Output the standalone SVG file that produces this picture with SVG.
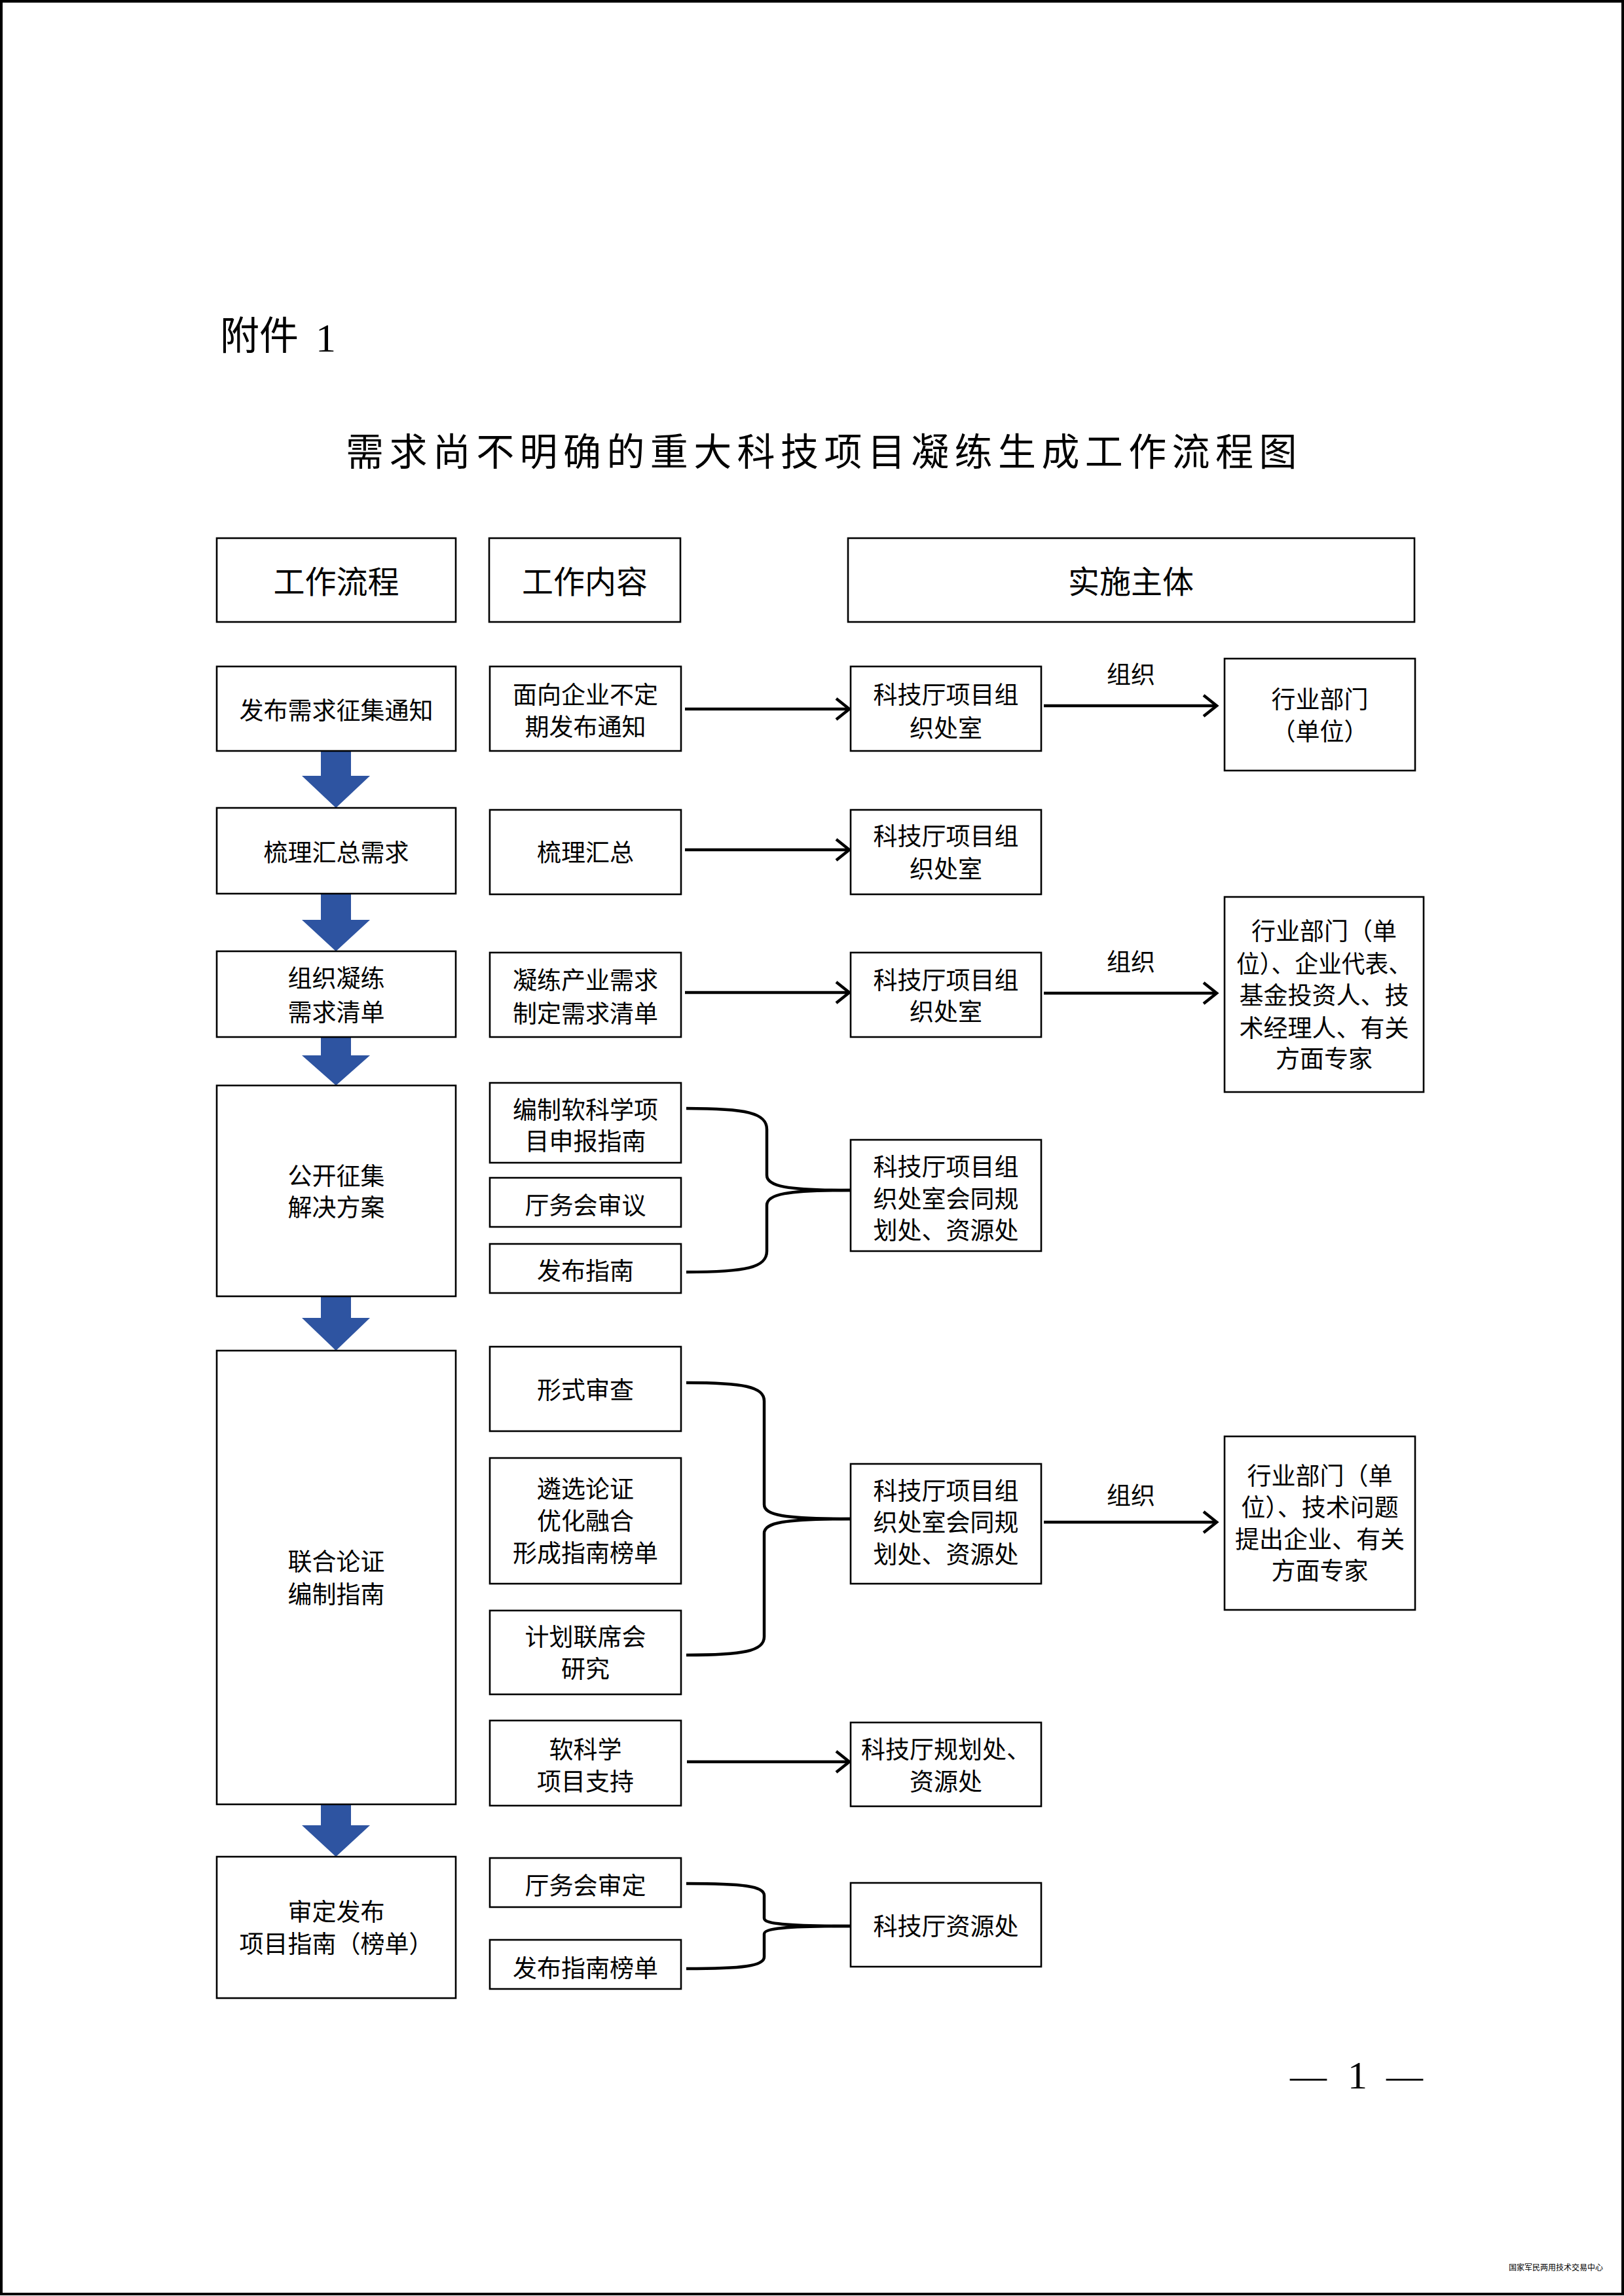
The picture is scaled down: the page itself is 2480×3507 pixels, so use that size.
<svg xmlns="http://www.w3.org/2000/svg" width="2480" height="3507" viewBox="0 0 2480 3507">
<style>
.box{fill:#fff;stroke:#000;stroke-width:2.6}
.t{font-family:"Noto Sans CJK SC","Liberation Sans",sans-serif;font-size:37px;fill:#000;text-anchor:middle}
.h{font-family:"Noto Sans CJK SC","Liberation Sans",sans-serif;font-size:48px;fill:#000;text-anchor:middle}
.ln{fill:none;stroke:#000;stroke-width:4.5}
.br{fill:none;stroke:#000;stroke-width:4.5}
.blue{fill:#2E54A1}
</style>
<defs>
<marker id="ah" markerUnits="userSpaceOnUse" markerWidth="30" markerHeight="36" viewBox="0 0 30 36" refX="24" refY="18" orient="auto">
<path d="M4,2 L24,18 L4,34" fill="none" stroke="#000" stroke-width="4.5"/>
</marker>
</defs>
<rect x="0" y="0" width="2480" height="3507" fill="#fff"/>
<rect x="2" y="2" width="2476" height="3502" fill="none" stroke="#000" stroke-width="4"/>

<text x="336" y="534" font-family="Noto Sans CJK SC,sans-serif" font-size="60">附件</text>
<text x="482" y="537" font-family="Liberation Serif,serif" font-size="62">1</text>
<text x="528" y="711" font-family="Noto Sans CJK SC,sans-serif" font-size="58" letter-spacing="8.4">需求尚不明确的重大科技项目凝练生成工作流程图</text>

<g id="headers">
<rect class="box" x="331" y="822" width="365" height="128"/>
<text class="h" x="513.5" y="906">工作流程</text>
<rect class="box" x="747" y="822" width="292" height="128"/>
<text class="h" x="893" y="906">工作内容</text>
<rect class="box" x="1295" y="822" width="865" height="128"/>
<text class="h" x="1727" y="906">实施主体</text>
</g>

<g id="connectors">
<polygon class="blue" points="490,1147 536,1147 536,1185 565,1185 513,1234 461,1185 490,1185"/>
<polygon class="blue" points="490,1365 536,1365 536,1405 565,1405 513,1453 461,1405 490,1405"/>
<polygon class="blue" points="490,1584 536,1584 536,1612 565,1612 513,1658 461,1612 490,1612"/>
<polygon class="blue" points="490,1980 536,1980 536,2013 565,2013 513,2063 461,2013 490,2013"/>
<polygon class="blue" points="490,2756 536,2756 536,2788 565,2788 513,2836 461,2788 490,2788"/>

<line class="ln" x1="1046" y1="1083" x2="1297" y2="1083" marker-end="url(#ah)"/>
<line class="ln" x1="1594" y1="1078" x2="1858" y2="1078" marker-end="url(#ah)"/>
<line class="ln" x1="1046" y1="1298" x2="1297" y2="1298" marker-end="url(#ah)"/>
<line class="ln" x1="1046" y1="1516" x2="1297" y2="1516" marker-end="url(#ah)"/>
<line class="ln" x1="1594" y1="1517" x2="1858" y2="1517" marker-end="url(#ah)"/>
<line class="ln" x1="1594" y1="2325" x2="1858" y2="2325" marker-end="url(#ah)"/>
<line class="ln" x1="1049" y1="2691" x2="1297" y2="2691" marker-end="url(#ah)"/>

<path class="br" d="M1048,1693 C1140,1693 1171,1700 1171,1725 L1171,1795 C1171,1812 1200,1818 1299,1818"/>
<path class="br" d="M1048,1943 C1140,1943 1171,1936 1171,1911 L1171,1841 C1171,1824 1200,1818 1299,1818"/>

<path class="br" d="M1048,2112 C1135,2112 1167,2118 1167,2140 L1167,2298 C1167,2314 1195,2320 1299,2320"/>
<path class="br" d="M1048,2528 C1135,2528 1167,2522 1167,2500 L1167,2342 C1167,2326 1195,2320 1299,2320"/>

<path class="br" d="M1048,2877 C1135,2877 1167,2881 1167,2895 L1167,2930 C1167,2938 1195,2942 1299,2942"/>
<path class="br" d="M1048,3007 C1135,3007 1167,3003 1167,2989 L1167,2954 C1167,2946 1195,2942 1299,2942"/>

<text class="t" x="1727" y="1044">组织</text>
<text class="t" x="1727" y="1483">组织</text>
<text class="t" x="1727" y="2298">组织</text>
</g>

<g id="r1c1"><rect class="box" x="331" y="1018" width="365" height="129"/><text class="t" x="513.5" y="1099">发布需求征集通知</text></g>
<g id="r1c2"><rect class="box" x="748" y="1018" width="292" height="129"/><text class="t" x="894" y="1075">面向企业不定</text><text class="t" x="894" y="1124">期发布通知</text></g>
<g id="r1c3"><rect class="box" x="1299" y="1018" width="291" height="129"/><text class="t" x="1444.5" y="1075">科技厅项目组</text><text class="t" x="1444.5" y="1126">织处室</text></g>
<g id="r1c4"><rect class="box" x="1870" y="1006" width="291" height="171"/><text class="t" x="2015.5" y="1082">行业部门</text><text class="t" x="2015.5" y="1131">（单位）</text></g>

<g id="r2c1"><rect class="box" x="331" y="1234" width="365" height="131"/><text class="t" x="513.5" y="1316">梳理汇总需求</text></g>
<g id="r2c2"><rect class="box" x="748" y="1237" width="292" height="129"/><text class="t" x="894" y="1316">梳理汇总</text></g>
<g id="r2c3"><rect class="box" x="1299" y="1237" width="291" height="129"/><text class="t" x="1444.5" y="1291">科技厅项目组</text><text class="t" x="1444.5" y="1341">织处室</text></g>

<g id="r3c1"><rect class="box" x="331" y="1453" width="365" height="131"/><text class="t" x="513.5" y="1508">组织凝练</text><text class="t" x="513.5" y="1560">需求清单</text></g>
<g id="r3c2"><rect class="box" x="748" y="1455" width="292" height="129"/><text class="t" x="894" y="1511">凝练产业需求</text><text class="t" x="894" y="1562">制定需求清单</text></g>
<g id="r3c3"><rect class="box" x="1299" y="1455" width="291" height="129"/><text class="t" x="1444.5" y="1511">科技厅项目组</text><text class="t" x="1444.5" y="1559">织处室</text></g>
<g id="r3c4"><rect class="box" x="1870" y="1370" width="304" height="298"/>
<text class="t" x="2022" y="1436">行业部门（单</text>
<text class="t" x="2022" y="1486" textLength="268" lengthAdjust="spacingAndGlyphs">位）、企业代表、</text>
<text class="t" x="2022" y="1534">基金投资人、技</text>
<text class="t" x="2022" y="1584">术经理人、有关</text>
<text class="t" x="2022" y="1631">方面专家</text></g>

<g id="r4c1"><rect class="box" x="331" y="1658" width="365" height="322"/><text class="t" x="513.5" y="1810">公开征集</text><text class="t" x="513.5" y="1858">解决方案</text></g>
<g id="r4c2a"><rect class="box" x="748" y="1654" width="292" height="122"/><text class="t" x="894" y="1709">编制软科学项</text><text class="t" x="894" y="1757">目申报指南</text></g>
<g id="r4c2b"><rect class="box" x="748" y="1799" width="292" height="75"/><text class="t" x="894" y="1855">厅务会审议</text></g>
<g id="r4c2c"><rect class="box" x="748" y="1900" width="292" height="75"/><text class="t" x="894" y="1955">发布指南</text></g>
<g id="r4c3"><rect class="box" x="1299" y="1741" width="291" height="170"/><text class="t" x="1444.5" y="1796">科技厅项目组</text><text class="t" x="1444.5" y="1845">织处室会同规</text><text class="t" x="1444.5" y="1893">划处、资源处</text></g>

<g id="r5c1"><rect class="box" x="331" y="2063" width="365" height="693"/><text class="t" x="513.5" y="2399">联合论证</text><text class="t" x="513.5" y="2449">编制指南</text></g>
<g id="r5c2a"><rect class="box" x="748" y="2057" width="292" height="129"/><text class="t" x="894" y="2137">形式审查</text></g>
<g id="r5c2b"><rect class="box" x="748" y="2227" width="292" height="192"/><text class="t" x="894" y="2288">遴选论证</text><text class="t" x="894" y="2337">优化融合</text><text class="t" x="894" y="2386">形成指南榜单</text></g>
<g id="r5c2c"><rect class="box" x="748" y="2460" width="292" height="128"/><text class="t" x="894" y="2514">计划联席会</text><text class="t" x="894" y="2563">研究</text></g>
<g id="r5c2d"><rect class="box" x="748" y="2628" width="292" height="130"/><text class="t" x="894" y="2686">软科学</text><text class="t" x="894" y="2735">项目支持</text></g>
<g id="r5c3a"><rect class="box" x="1299" y="2236" width="291" height="183"/><text class="t" x="1444.5" y="2291">科技厅项目组</text><text class="t" x="1444.5" y="2339">织处室会同规</text><text class="t" x="1444.5" y="2388">划处、资源处</text></g>
<g id="r5c3b"><rect class="box" x="1299" y="2631" width="291" height="128"/><text class="t" x="1444.5" y="2686">科技厅规划处、</text><text class="t" x="1444.5" y="2735">资源处</text></g>
<g id="r5c4"><rect class="box" x="1870" y="2194" width="291" height="265"/><text class="t" x="2015.5" y="2268">行业部门（单</text><text class="t" x="2015.5" y="2316">位）、技术问题</text><text class="t" x="2015.5" y="2365">提出企业、有关</text><text class="t" x="2015.5" y="2413">方面专家</text></g>

<g id="r6c1"><rect class="box" x="331" y="2836" width="365" height="216"/><text class="t" x="513.5" y="2934">审定发布</text><text class="t" x="513.5" y="2983">项目指南（榜单）</text></g>
<g id="r6c2a"><rect class="box" x="748" y="2838" width="292" height="75"/><text class="t" x="894" y="2894">厅务会审定</text></g>
<g id="r6c2b"><rect class="box" x="748" y="2963" width="292" height="75"/><text class="t" x="894" y="3020">发布指南榜单</text></g>
<g id="r6c3"><rect class="box" x="1299" y="2876" width="291" height="128"/><text class="t" x="1444.5" y="2956">科技厅资源处</text></g>

<text x="1970" y="3190" font-family="Liberation Serif,serif" font-size="56">—</text>
<text x="2058" y="3190" font-family="Liberation Serif,serif" font-size="60">1</text>
<text x="2117" y="3190" font-family="Liberation Serif,serif" font-size="56">—</text>
<text x="2304" y="3468" font-family="Noto Sans CJK SC,sans-serif" font-size="12">国家军民两用技术交易中心</text>
</svg>
